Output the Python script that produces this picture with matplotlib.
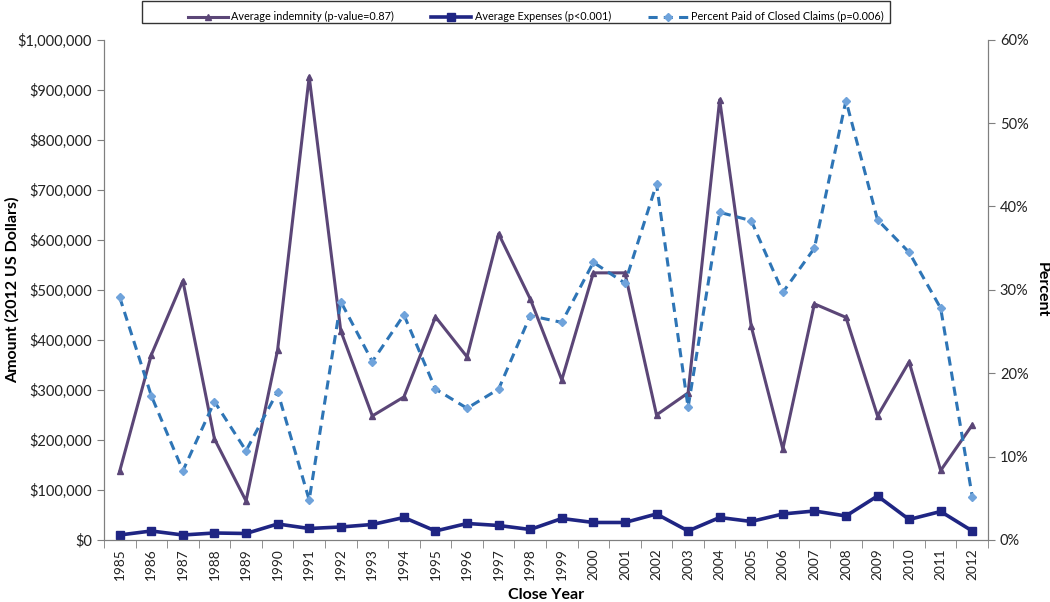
import matplotlib
matplotlib.use('Agg')
import matplotlib.pyplot as plt
from matplotlib.patches import Rectangle
from matplotlib.ticker import FuncFormatter, MultipleLocator

plt.rcParams['font.family'] = ['Lato', 'DejaVu Sans']

anos = [str(a) for a in range(1985, 2013)]
indenizacao = [138000, 370000, 518000, 202000, 78000, 380000, 926000, 418000, 248000, 286000,
               446000, 366000, 612000, 482000, 320000, 534000, 534000, 250000, 294000, 880000,
               427000, 182000, 472000, 445000, 248000, 356000, 139000, 230000]
despesas = [10000, 18000, 10000, 14000, 13000, 32000, 23000, 26000, 31000, 45000,
            18000, 33000, 29000, 21000, 43000, 35000, 35000, 52000, 18000, 45000,
            37000, 52000, 58000, 48000, 88000, 41000, 57000, 18000]
pct_pagos = [29.1, 17.3, 8.3, 16.6, 10.7, 17.8, 4.8, 28.6, 21.4, 27.0,
             18.1, 15.8, 18.1, 26.9, 26.1, 33.3, 30.8, 42.7, 15.9, 39.3,
             38.3, 29.7, 35.0, 52.7, 38.4, 34.5, 27.8, 5.2]

cinza = '#7f7f7f'
x = list(range(len(anos)))

fig = plt.figure(figsize=(10.5, 6.02), dpi=100)
ax = fig.add_axes([0.099, 0.103, 0.842, 0.831])
ax2 = ax.twinx()

l1, = ax.plot(x, indenizacao, color='#5b4677', lw=2.2, marker='^', ms=5,
              label='Average indemnity (p-value=0.87)')
l2, = ax.plot(x, despesas, color='#1f2583', lw=2.6, marker='s', ms=6,
              label='Average Expenses (p<0.001)')
l3, = ax2.plot(x, pct_pagos, color='#2e75b6', lw=2.2, ls=(0, (3, 2)), marker='D', ms=4,
               mfc='#6fa3db', mec='#6fa3db', label='Percent Paid of Closed Claims (p=0.006)')

ax.set_xlim(-0.5, len(anos) - 0.5)
ax.set_ylim(0, 1000000)
ax2.set_ylim(0, 60)
ax.yaxis.set_major_locator(MultipleLocator(100000))
ax.yaxis.set_major_formatter(FuncFormatter(lambda v, p: '${:,.0f}'.format(v)))
ax2.yaxis.set_major_locator(MultipleLocator(10))
ax2.yaxis.set_major_formatter(FuncFormatter(lambda v, p: '{:.0f}%'.format(v)))

ax.set_xticks(x)
ax.set_xticklabels(anos, rotation=90, fontsize=9.8, color='#222222')
ax.set_xticks([i - 0.5 for i in range(len(anos) + 1)], minor=True)
ax.tick_params(axis='x', which='major', length=0, pad=6)
ax.tick_params(axis='x', which='minor', length=6, color=cinza, direction='out')
ax.tick_params(axis='y', length=5, color=cinza, labelsize=10.5, labelcolor='#222222')
ax2.tick_params(axis='y', length=5, color=cinza, labelsize=10.5, labelcolor='#222222')

for a in (ax, ax2):
    a.spines['top'].set_visible(False)
    for s in ('left', 'right', 'bottom'):
        a.spines[s].set_color(cinza)

ax.set_xlabel('Close Year', fontsize=11.5, fontweight='bold', va='center')
ax.xaxis.set_label_coords(0.5, -0.11)
ax.set_ylabel('Amount (2012 US Dollars)', fontsize=11.5, fontweight='bold', va='center')
ax.yaxis.set_label_coords(-0.104, 0.5)
ax2.set_ylabel('Percent', fontsize=11.5, fontweight='bold', rotation=270, va='center')
ax2.yaxis.set_label_coords(1.061, 0.5)

# moldura da legenda (estilo Excel, mais larga que o conteudo)
fig.patches.append(Rectangle((142 / 1050, 1 - 23 / 602), (890 - 142) / 1050, 22 / 602,
                             transform=fig.transFigure, fill=False, edgecolor='#333333', lw=1))
leg = fig.legend(handles=[l1, l2, l3], loc='upper left', bbox_to_anchor=(0.1695, 1 - 1.5 / 602),
                 ncol=3, fontsize=7.85, frameon=False, handlelength=3.7,
                 columnspacing=3.4, borderpad=0.4, handletextpad=0.28)

fig.savefig('out.png', dpi=100)
